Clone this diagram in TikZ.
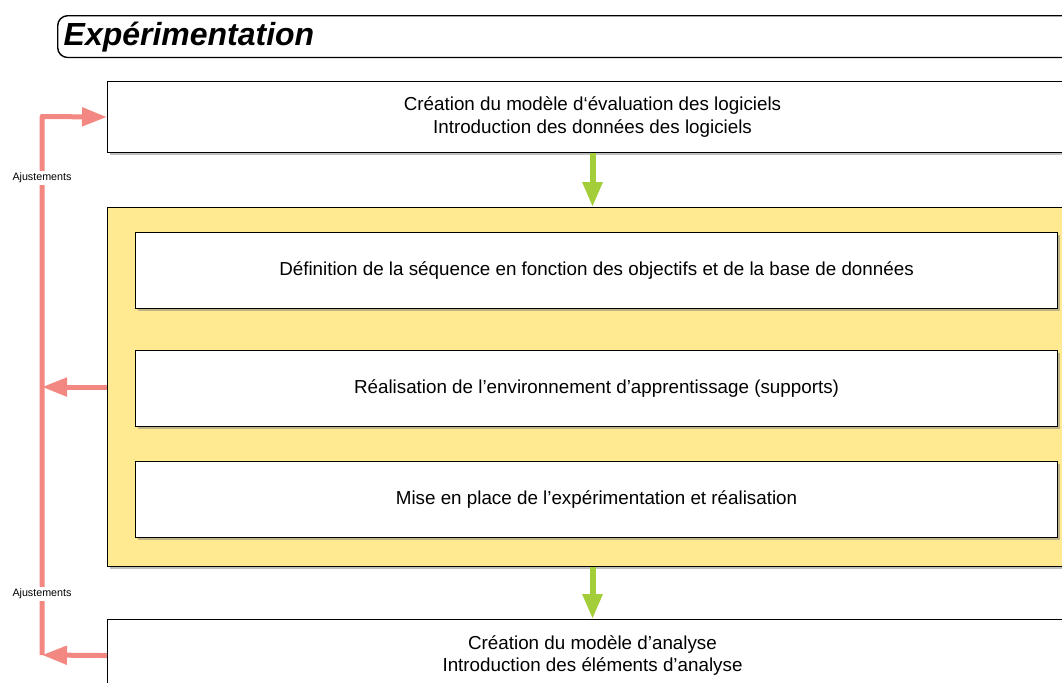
\documentclass[tikz,border=0pt]{standalone}
\usepackage{fontspec}
\setmainfont{Liberation Sans}
\usetikzlibrary{arrows.meta,shadows}

\definecolor{jaune}{RGB}{255,233,145}
\definecolor{saumon}{RGB}{243,136,130}
\definecolor{vert}{RGB}{164,206,57}

\tikzset{
  etape/.style={draw, line width=0.6pt, fill=white, align=center,
    font=\fontsize{10.7}{13}\selectfont,
    drop shadow={shadow xshift=0.04cm, shadow yshift=-0.04cm, fill=gray}},
  groupe/.style={draw, line width=0.6pt, fill=jaune,
    drop shadow={shadow xshift=0.04cm, shadow yshift=-0.04cm, fill=gray}},
  titre/.style={draw, line width=0.8pt, rounded corners=0.2cm, align=left,
    font=\fontsize{18.2}{22}\selectfont\bfseries\itshape},
  suite/.style={vert, line width=0.12cm, -{Triangle[length=0.5cm, width=0.38cm]}},
  ajust/.style={saumon, line width=0.1cm, line join=round,
    -{Triangle[length=0.5cm, width=0.36cm]}},
  legende/.style={fill=white, inner sep=1pt, font=\fontsize{6.1}{7}\selectfont}
}

\begin{document}
\begin{tikzpicture}
  \useasboundingbox (0,0) rectangle (21.24,-13.64);
  \clip (0,0) rectangle (21.24,-13.64);
  \node[titre, anchor=north west, minimum height=0.78cm, text width=20.7cm,
    inner xsep=0.12cm] (titre) at (1.14,-0.30) {Expérimentation};
  \node[etape, anchor=north west, minimum width=19.4cm, minimum height=1.42cm]
    (creation) at (2.14,-1.62) {Création du modèle d‘évaluation des logiciels\\
    Introduction des données des logiciels};
  \node[groupe, anchor=north west, minimum width=19.4cm, minimum height=7.18cm]
    (sequence) at (2.14,-4.14) {};
  \node[etape, anchor=north west, minimum width=18.44cm, minimum height=1.52cm]
    (definition) at (2.70,-4.64) {Définition de la séquence en fonction des objectifs et de la base de données};
  \node[etape, anchor=north west, minimum width=18.44cm, minimum height=1.52cm]
    (supports) at (2.70,-7.00) {Réalisation de l’environnement d’apprentissage (supports)};
  \node[etape, anchor=north west, minimum width=18.44cm, minimum height=1.52cm]
    (realisation) at (2.70,-9.22) {Mise en place de l’expérimentation et réalisation};
  \node[etape, anchor=north west, minimum width=19.4cm, minimum height=1.44cm]
    (analyse) at (2.14,-12.38) {Création du modèle d’analyse\\
    Introduction des éléments d’analyse};
  \coordinate (coinhaut) at (0.84,-2.33);
  \coordinate (coinbas) at (0.84,-13.10);
  % Draw the steps
  \draw[suite] (creation) -- (sequence);
  \draw[suite] (sequence) -- (analyse);
  % Draw the adjustments
  \draw[ajust] (coinbas) -- (coinhaut) -- (creation.west);
  \draw[ajust] (sequence.west) -- (sequence.west -| coinhaut);
  \draw[ajust] (analyse.west) -- (coinbas);
  \node[legende] (ajust1) at (0.84,-3.56) {Ajustements};
  \node[legende] (ajust2) at (0.84,-11.88) {Ajustements};
\end{tikzpicture}
\end{document}
